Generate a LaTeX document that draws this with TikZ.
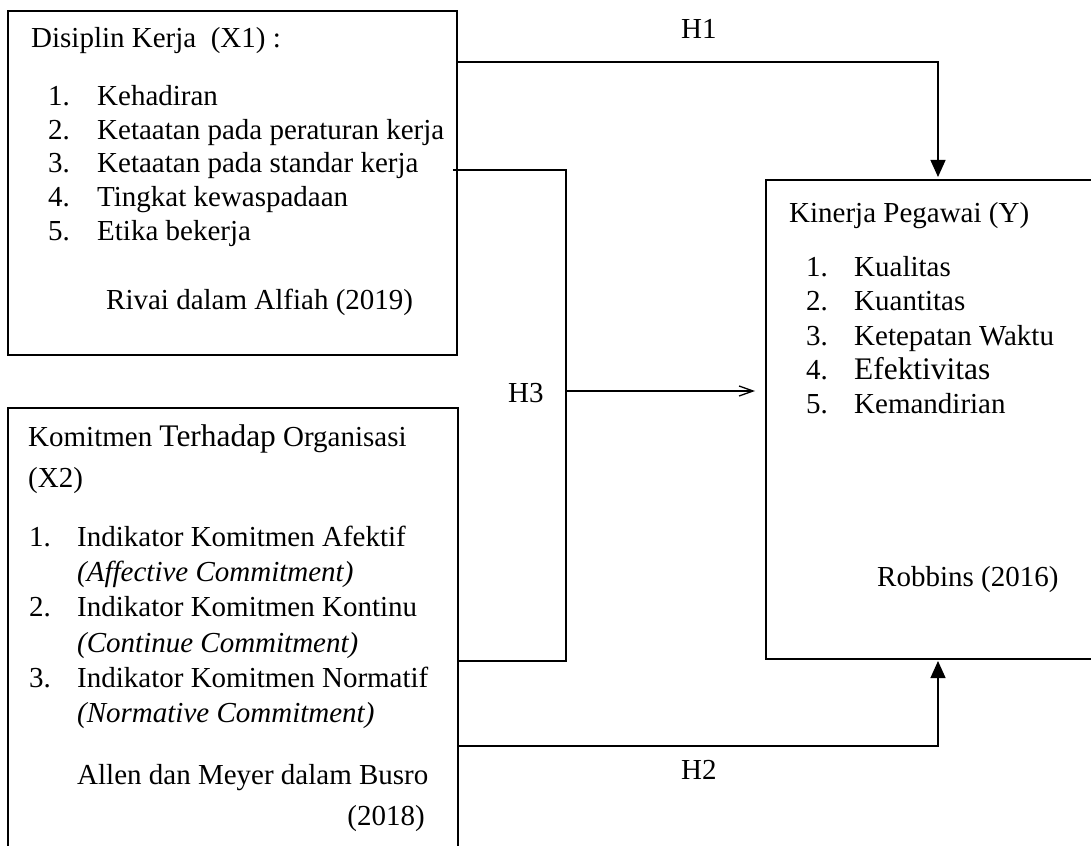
\documentclass[tikz,border=0pt]{standalone}
\usepackage{fontspec}
\setmainfont{Liberation Serif}
\usetikzlibrary{arrows.meta}
\newcommand{\normsz}{\fontsize{29}{34}\selectfont}
\newcommand{\bigsz}{\fontsize{31.4}{36}\selectfont}
\begin{document}
\begin{tikzpicture}[x=1pt,y=-1pt,
  box/.style={draw, line width=2pt, inner sep=0pt, outer sep=0pt},
  conn/.style={line width=1.3pt},
  tri/.style={conn, -{Triangle[width=15pt,length=17pt]}},
  barb/.style={conn, -{Straight Barb[width=10pt,length=14pt,line width=1.3pt]}},
  txt/.style={anchor=base west, inner sep=0pt, font=\normsz},
  txtr/.style={anchor=base east, inner sep=0pt, font=\normsz}]
\useasboundingbox (0,0) rectangle (1091,845);
\clip (0,0) rectangle (1091,845);
\fill[white] (0,0) rectangle (1091,845);

% boxes
\node[box, minimum width=449pt, minimum height=344pt] (x1) at (232.5,183) {};
\node[box, minimum width=450pt, minimum height=462pt] (x2) at (233,639) {};
\node[box, minimum width=344pt, minimum height=479pt] (y) at (938,419.5) {};

% box 1 text
\node[txt] (x1t) at (31,48) {Disiplin Kerja\ \ (X1) :};
\node[txt] (x1n1) at (48,106) {1.};
\node[txt] (x1i1) at (97,106) {Kehadiran};
\node[txt] (x1n2) at (48,139.5) {2.};
\node[txt] (x1i2) at (97,139.5) {Ketaatan pada peraturan kerja};
\node[txt] (x1n3) at (48,173) {3.};
\node[txt] (x1i3) at (97,173) {Ketaatan pada standar kerja};
\node[txt] (x1n4) at (48,206.5) {4.};
\node[txt] (x1i4) at (97,206.5) {Tingkat kewaspadaan};
\node[txt] (x1n5) at (48,240) {5.};
\node[txt] (x1i5) at (97,240) {Etika bekerja};
\node[txt] (x1s) at (106,309) {Rivai dalam Alfiah (2019)};

% box 2 text
\node[txt] (x2t) at (28,446) {Komitmen {\bigsz Terhadap} Organisasi};
\node[txt] (x2t2) at (28,487) {(X2)};
\node[txt] (x2n1) at (29,546) {1.};
\node[txt] (x2i1) at (77,546) {Indikator Komitmen Afektif};
\node[txt] (x2e1) at (77,581) {\itshape (Affective Commitment)};
\node[txt] (x2n2) at (29,616.5) {2.};
\node[txt] (x2i2) at (77,616.5) {Indikator Komitmen Kontinu};
\node[txt] (x2e2) at (77,652) {\itshape (Continue Commitment)};
\node[txt] (x2n3) at (29,687) {3.};
\node[txt] (x2i3) at (77,687) {Indikator Komitmen Normatif};
\node[txt] (x2e3) at (77,722.5) {\itshape (Normative Commitment)};
\node[txt] (x2s) at (77,784) {Allen dan Meyer dalam Busro};
\node[txtr] (x2s2) at (425,825) {(2018)};

% box Y text
\node[txt] (yt) at (789,222) {Kinerja Pegawai (Y)};
\node[txt] (yn1) at (806,276) {1.};
\node[txt] (yi1) at (854,276) {Kualitas};
\node[txt] (yn2) at (806,310.5) {2.};
\node[txt] (yi2) at (854,310.5) {Kuantitas};
\node[txt] (yn3) at (806,345) {3.};
\node[txt] (yi3) at (854,345) {Ketepatan Waktu};
\node[txt] (yn4) at (806,379.5) {4.};
\node[txt, font=\bigsz] (yi4) at (854,379.5) {Efektivitas};
\node[txt] (yn5) at (806,413) {5.};
\node[txt] (yi5) at (854,413) {Kemandirian};
\node[txt] (ys) at (877,586) {Robbins (2016)};

% labels
\node[txt] (h1) at (681,39) {H1};
\node[txt] (h3) at (508,402) {H3};
\node[txt] (h2) at (681,779) {H2};

% connectors
\coordinate (h1y) at (0,62);
\coordinate (h2y) at (0,746);
\coordinate (h3top) at (566,170);
\coordinate (h3bot) at (566,661);
\coordinate (h3mid) at (566,391);

\draw[tri] (x1.east |- h1y) -| ([yshift=3pt]y.north);
\draw[tri] (x2.east |- h2y) -| ([yshift=-2pt]y.south);
\draw[conn] ([xshift=-4pt]x1.east |- h3top) -- (h3top) -- (h3bot) -- (x2.east |- h3bot);
\draw[barb] (h3mid) -- ([xshift=-11pt]y.west |- h3mid);
\end{tikzpicture}
\end{document}
